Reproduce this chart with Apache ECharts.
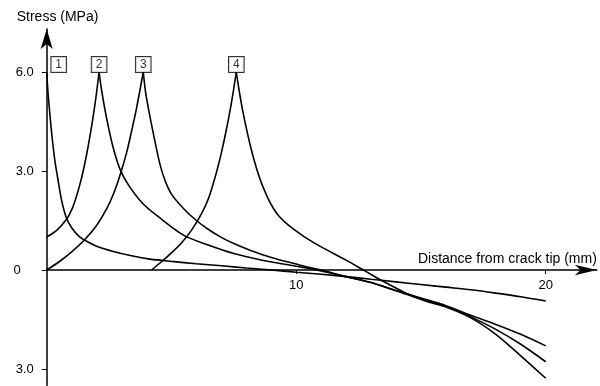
<!DOCTYPE html>
<html>
<head>
<meta charset="utf-8">
<script src="https://cdn.jsdelivr.net/npm/echarts@6/dist/echarts.min.js"></script>
<style>
  html, body { margin: 0; padding: 0; background: #fff; }
  #chart { width: 600px; height: 386px; }
</style>
</head>
<body>
<div id="chart"></div>
<script>
// Stress distribution ahead of the crack tip for four loading positions.
// Each curve is split at its peak into a rising and a falling branch.

const curve1Right = [[0, 6.0], [0.05, 5.4], [0.13, 4.7], [0.22, 4.0], [0.33, 3.3], [0.45, 2.75], [0.6, 2.1],
  [0.78, 1.6], [1.0, 1.28], [1.3, 1.02], [1.6, 0.87], [2.0, 0.72], [2.67, 0.56], [3.4, 0.43], [4.14, 0.33],
  [5, 0.26], [6, 0.19], [7, 0.13], [8, 0.06], [9, 0.0], [10, -0.07], [11, -0.13], [12, -0.2], [13, -0.28],
  [14, -0.36], [15, -0.44], [16, -0.52], [17, -0.6], [18, -0.7], [19, -0.81], [20, -0.94]];

const curve2Left = [[0, 1.0], [0.4, 1.2], [0.78, 1.52], [1.0, 1.82], [1.2, 2.25], [1.4, 2.8], [1.6, 3.5],
  [1.8, 4.35], [1.95, 5.1], [2.1, 6.0]];
const curve2Right = [[2.1, 6.0], [2.2, 5.45], [2.4, 4.6], [2.65, 3.75], [2.94, 3.05], [3.3, 2.55], [3.87, 2.0],
  [4.5, 1.6], [5.5, 1.05], [6.5, 0.75], [7.5, 0.5], [8.5, 0.32], [9.5, 0.18], [10.4, 0.06], [11, -0.03],
  [12, -0.2], [13, -0.38], [14, -0.62], [15, -0.85], [16, -1.08], [17, -1.37], [18, -1.65], [19, -1.95],
  [20, -2.3]];

const curve3Left = [[0, 0], [0.5, 0.25], [1.0, 0.55], [1.5, 0.9], [2.0, 1.35], [2.4, 1.85], [2.7, 2.35],
  [2.95, 2.9], [3.2, 3.55], [3.4, 4.2], [3.6, 4.9], [3.87, 6.0]];
const curve3Right = [[3.87, 6.0], [3.97, 5.35], [4.1, 4.8], [4.27, 4.15], [4.54, 3.2], [4.75, 2.7], [5.0, 2.3],
  [5.5, 1.85], [6.0, 1.5], [6.5, 1.22], [7.0, 0.99], [7.5, 0.8], [8.15, 0.6], [9, 0.38], [10, 0.18],
  [10.4, 0.1], [11, 0.0], [12, -0.2], [13, -0.38], [14, -0.63], [15, -0.88], [16, -1.1], [17, -1.42],
  [18, -1.8], [19, -2.25], [20, -2.78]];

const curve4Left = [[4.2, 0], [4.6, 0.25], [5.0, 0.52], [5.4, 0.82], [5.8, 1.2], [6.2, 1.7], [6.5, 2.2],
  [6.8, 2.95], [7.0, 3.55], [7.2, 4.25], [7.4, 5.05], [7.6, 6.0]];
const curve4Right = [[7.6, 6.0], [7.7, 5.5], [7.85, 4.85], [8.0, 4.3], [8.2, 3.65], [8.42, 3.05], [8.6, 2.65],
  [8.85, 2.2], [9.1, 1.85], [9.35, 1.6], [9.7, 1.35], [10.3, 1.02], [11, 0.7], [12, 0.3], [12.8, -0.05],
  [13.5, -0.35], [14.4, -0.7], [15.2, -0.95], [16, -1.12], [17, -1.45], [18, -1.95], [19, -2.6], [20, -3.28]];

// Boxed curve numbers sitting on each peak
const peakX = [0, 2.1, 3.87, 7.6];
const peakY = [6.0, 6.0, 6.0, 6.0];
const peakNames = ['1', '2', '3', '4'];

// Axis ticks and their printed labels
const yTickValues = [-3, 0, 3, 6];
const yTickLabels = ['3.0', '0', '3.0', '6.0'];
const xTickValues = [10, 20];
const xTickLabels = ['10', '20'];

const FONT = 'Liberation Sans';
const INK = '#000';

const Y_MIN = -3.5, Y_MAX = 7.3;
const GRID_TOP = 29.1, GRID_BOTTOM = 0.5, CHART_H = 386;
// Pixel distance from the bottom edge of the plot up to stress = 0
const zeroLift = (CHART_H - GRID_TOP - GRID_BOTTOM) * (0 - Y_MIN) / (Y_MAX - Y_MIN);

const branches = [curve1Right, curve2Left, curve2Right, curve3Left, curve3Right, curve4Left, curve4Right];

const lineSeries = branches.map(function (pts) {
  return {
    type: 'line',
    data: pts,
    smooth: 0.3,
    showSymbol: false,
    symbol: 'none',
    lineStyle: { color: INK, width: 1.6 },
    silent: true,
    z: 3
  };
});

const labelSeries = {
  type: 'scatter',
  symbolSize: 0,
  silent: true,
  z: 4,
  data: peakX.map(function (x, i) {
    return {
      value: [x, peakY[i]],
      label: {
        show: true,
        formatter: peakNames[i],
        position: 'top',
        distance: 0,
        offset: i === 0 ? [12, 0] : [0, 0],
        color: INK,
        fontFamily: FONT,
        fontSize: 12,
        lineHeight: 11,
        borderColor: INK,
        borderWidth: 1,
        padding: [2, 4, 2, 4],
        backgroundColor: '#fff'
      }
    };
  })
};

const chart = echarts.init(document.getElementById('chart'), null, { renderer: 'canvas' });

chart.setOption({
  animation: false,
  backgroundColor: '#fff',
  grid: {
    left: 46.7, right: 3.15, top: GRID_TOP, bottom: GRID_BOTTOM,
    containLabel: false, outerBoundsMode: 'none'
  },
  xAxis: {
    type: 'value',
    min: 0,
    max: 22.05,
    offset: -zeroLift,
    name: 'Distance from crack tip (mm)',
    nameLocation: 'end',
    nameGap: 0,
    nameTextStyle: {
      color: INK, fontFamily: FONT, fontSize: 14,
      align: 'right', verticalAlign: 'bottom', padding: [0, 0, 4, 0]
    },
    axisLine: {
      onZero: false,
      lineStyle: { color: INK, width: 1.5 },
      symbol: ['none', 'arrow'],
      symbolSize: [8, 22]
    },
    axisTick: { show: true, inside: false, length: 4, customValues: xTickValues, lineStyle: { color: INK } },
    axisLabel: {
      customValues: xTickValues,
      margin: 9,
      color: INK, fontFamily: FONT, fontSize: 13,
      formatter: function (v) { return xTickLabels[xTickValues.indexOf(v)]; }
    },
    splitLine: { show: false }
  },
  yAxis: {
    type: 'value',
    min: Y_MIN,
    max: Y_MAX,
    name: 'Stress (MPa)',
    nameLocation: 'end',
    nameGap: 5,
    nameTextStyle: {
      color: INK, fontFamily: FONT, fontSize: 14,
      align: 'left', padding: [0, 0, 0, -30]
    },
    axisLine: {
      onZero: false,
      lineStyle: { color: INK, width: 1.5 },
      symbol: ['none', 'arrow'],
      symbolSize: [9, 20]
    },
    axisTick: { show: true, inside: false, length: 5, customValues: yTickValues, lineStyle: { color: INK } },
    axisLabel: {
      customValues: yTickValues,
      margin: 13,
      color: INK, fontFamily: FONT, fontSize: 13,
      formatter: function (v) {
        const t = yTickLabels[yTickValues.indexOf(v)];
        return v === 0 ? '{z|' + t + '}' : t;
      },
      rich: { z: { fontFamily: FONT, fontSize: 13, color: INK, padding: [0, 13, 0, 0] } }
    },
    splitLine: { show: false }
  },
  series: lineSeries.concat([labelSeries])
});
</script>
</body>
</html>
